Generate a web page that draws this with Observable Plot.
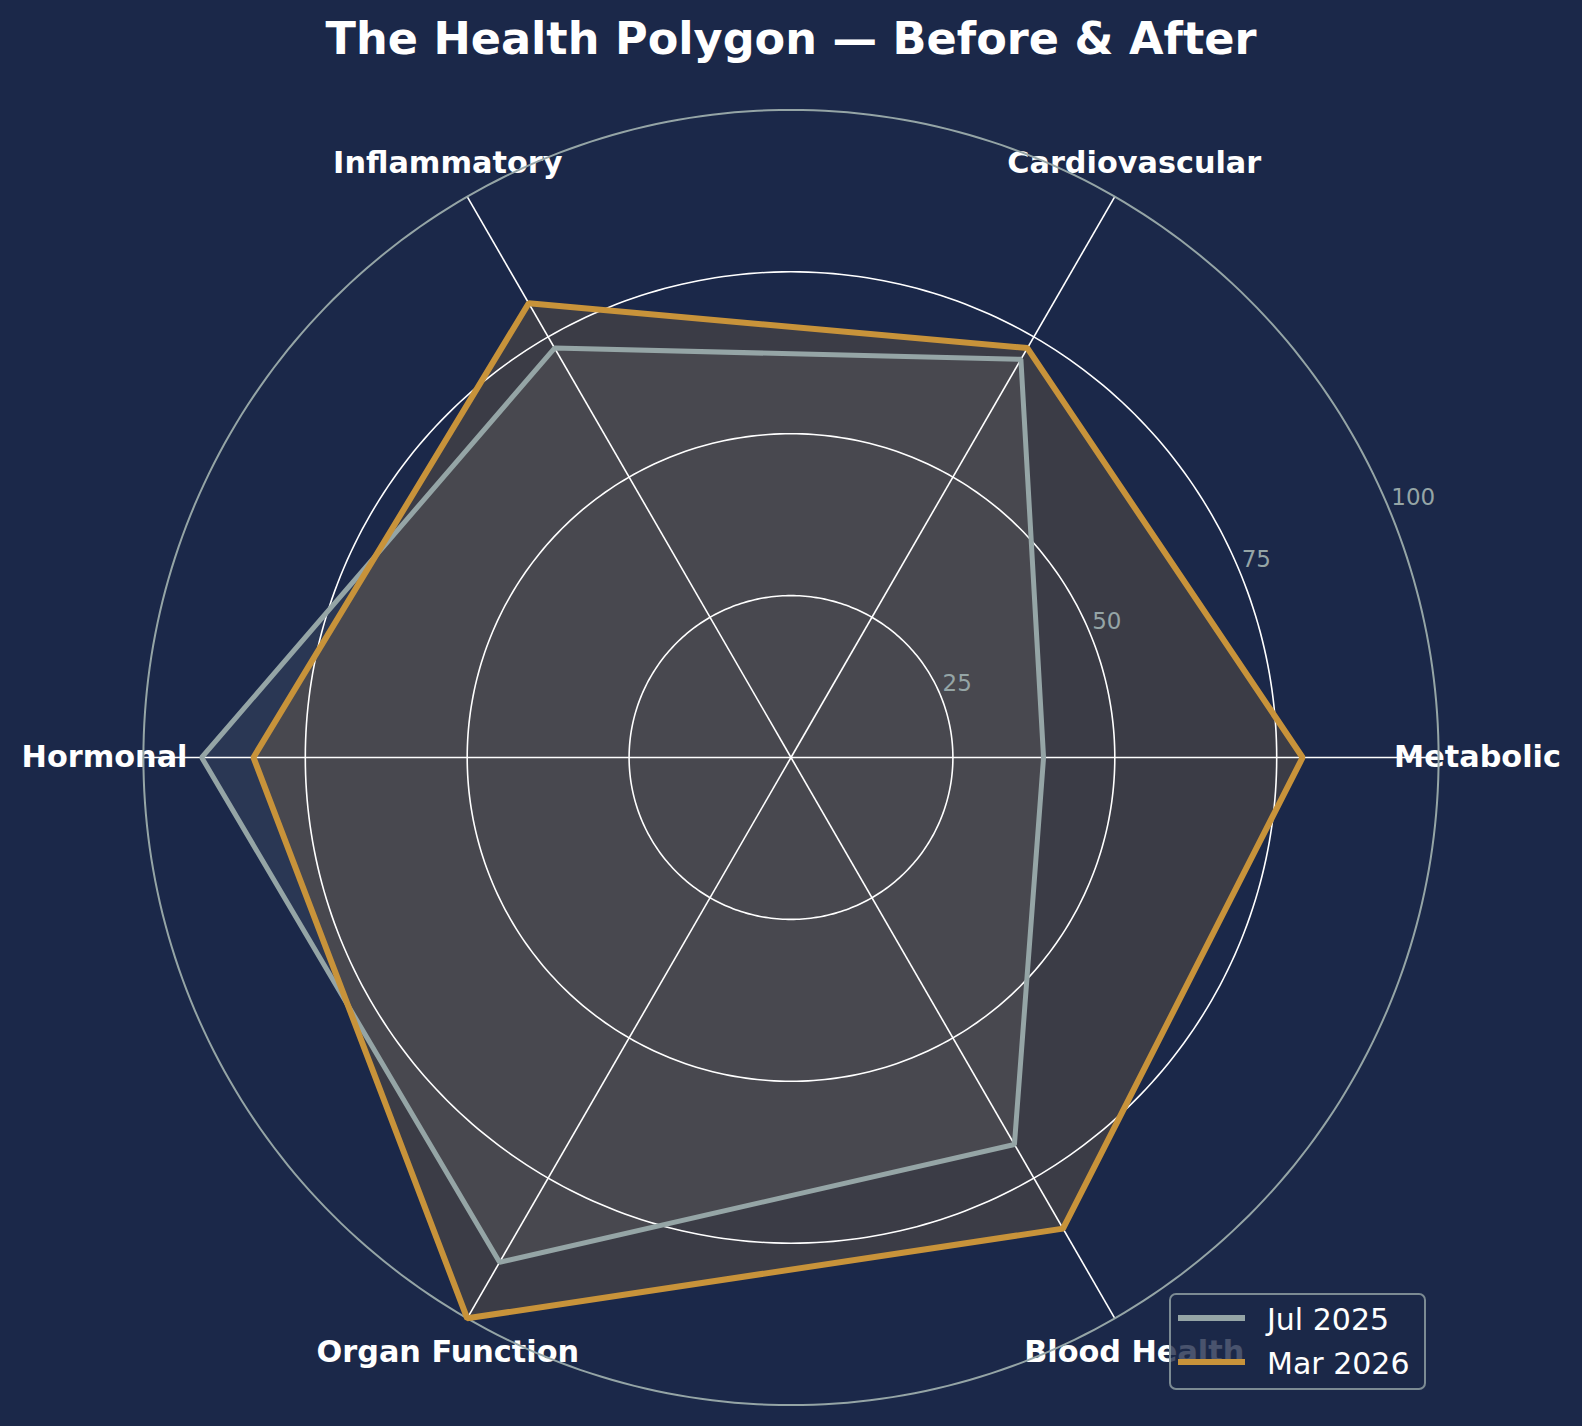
<!DOCTYPE html>
<html><head><meta charset="utf-8">
<script src="https://cdn.jsdelivr.net/npm/d3@7"></script>
<script src="https://cdn.jsdelivr.net/npm/@observablehq/plot@0.6"></script>
<style>
html,body{margin:0;padding:0;background:#1b2849;}
body{width:1582px;height:1426px;position:relative;overflow:hidden;font-family:"DejaVu Sans",sans-serif;}
#title{height:80px;line-height:79px;text-align:center;color:#ffffff;font-weight:bold;font-size:44.6px;white-space:nowrap;}
#chart{position:absolute;left:0;top:80px;}
#legend{position:absolute;left:1169px;top:1293px;width:253px;height:93px;border:2px solid rgba(149,165,166,0.8);border-radius:7px;background:rgba(27,40,73,0.8);box-sizing:content-box;}
.lg-line{position:absolute;left:7px;width:67px;}
.lg-text{position:absolute;left:96px;color:#ffffff;font-size:30px;line-height:30px;white-space:nowrap;}
</style></head>
<body>
<div id="title">The Health Polygon — Before &amp; After</div>
<div id="chart"></div>
<div id="legend"></div>
<script>
// ---- data ----
const categories = ["Metabolic", "Cardiovascular", "Inflammatory", "Hormonal", "Organ Function", "Blood Health"];
const jul2025 = [39, 71, 73, 91, 90, 69];
const mar2026 = [79, 73, 81, 83, 100, 84];
const seriesNames = ["Jul 2025", "Mar 2026"];
const gridTicks = [25, 50, 75, 100];

// ---- styling ----
const julColor = "#95a5a6";
const marColor = "#c8933a";
const W = 1582, H = 1346;
const k = 6.476;          // px per unit
const cx = 790.5, cy = 757 - 80;

const ang = i => i * Math.PI / 3;
const toPts = (vals, name) => vals.map((v, i) => ({series: name, cat: categories[i], value: v, x: v * Math.cos(ang(i)), y: v * Math.sin(ang(i))}));
const julPts = toPts(jul2025, seriesNames[0]);
const marPts = toPts(mar2026, seriesNames[1]);

const circlePts = gridTicks.flatMap(t => d3.range(0, 361, 1).map(a => ({t, x: t * Math.cos(a * Math.PI / 180), y: t * Math.sin(a * Math.PI / 180)})));
const maxTick = d3.max(gridTicks);
const labelAng = 22.5 * Math.PI / 180;

const chart = Plot.plot({
  width: W, height: H, margin: 0,
  x: {domain: [-cx / k, (W - cx) / k], axis: null},
  y: {domain: [-(H - cy) / k, cy / k], axis: null},
  style: {background: "transparent", overflow: "visible", fontFamily: "DejaVu Sans"},
  marks: [
    Plot.area(julPts, {x1: "x", y1: "y", x2: 0, y2: 0, curve: "linear-closed", fill: julColor, fillOpacity: 0.13}),
    Plot.area(marPts, {x1: "x", y1: "y", x2: 0, y2: 0, curve: "linear-closed", fill: marColor, fillOpacity: 0.19}),
    Plot.line(circlePts.filter(d => d.t < maxTick), {x: "x", y: "y", z: "t", stroke: "#ffffff", strokeWidth: 1.6}),
    Plot.link(categories, {x1: 0, y1: 0, x2: (d, i) => maxTick * Math.cos(ang(i)), y2: (d, i) => maxTick * Math.sin(ang(i)), stroke: "#ffffff", strokeWidth: 1.6}),
    Plot.text(categories, {x: (d, i) => 106 * Math.cos(ang(i)), y: (d, i) => 106 * Math.sin(ang(i)), text: d => d, fill: "#ffffff", fontWeight: "bold", fontSize: 30.3}),
    Plot.line(circlePts.filter(d => d.t === maxTick), {x: "x", y: "y", stroke: julColor, strokeWidth: 2}),
    Plot.line(julPts, {x: "x", y: "y", curve: "linear-closed", stroke: julColor, strokeWidth: 5, strokeLinejoin: "miter"}),
    Plot.line(marPts, {x: "x", y: "y", curve: "linear-closed", stroke: marColor, strokeWidth: 6, strokeLinejoin: "miter"}),
    Plot.text(gridTicks, {x: t => t * Math.cos(labelAng), y: t => t * Math.sin(labelAng), text: t => String(t), fill: "#95a5a6", fontSize: 23, textAnchor: "start", lineAnchor: "bottom", dx: 2, dy: -5})
  ]
});
document.getElementById("chart").appendChild(chart);

// legend
const legend = document.getElementById("legend");
const legendItems = [{name: seriesNames[0], color: julColor, w: 5.5}, {name: seriesNames[1], color: marColor, w: 6.5}];
legendItems.forEach((it, j) => {
  const line = document.createElement("div");
  line.className = "lg-line";
  line.style.top = (23 - it.w / 2 + j * 44) + "px";
  line.style.height = it.w + "px";
  line.style.background = it.color;
  legend.appendChild(line);
  const txt = document.createElement("div");
  txt.className = "lg-text";
  txt.style.top = (10 + j * 44) + "px";
  txt.textContent = it.name;
  legend.appendChild(txt);
});
</script>
</body></html>
